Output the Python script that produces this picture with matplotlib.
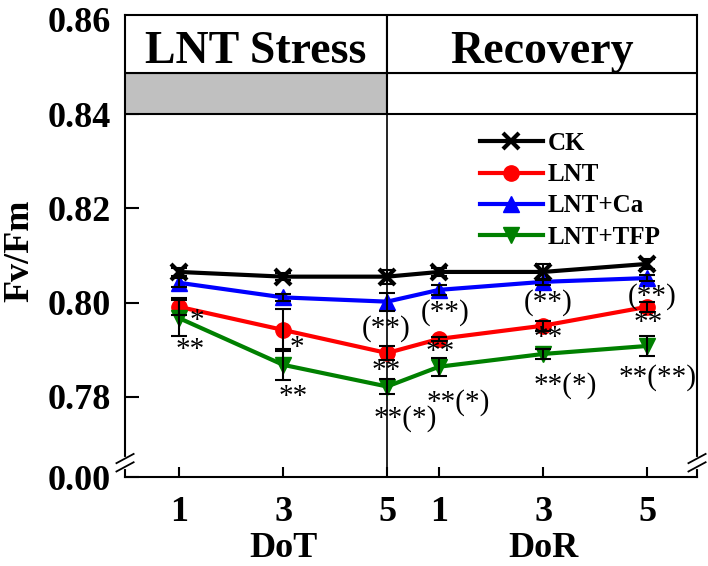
import matplotlib
matplotlib.use('Agg')
import matplotlib.pyplot as plt
from matplotlib.patches import Rectangle
from matplotlib.transforms import blended_transform_factory

plt.rcParams['font.family'] = 'Liberation Serif'

# x positions: DoT 1,3,5 then DoR 1,3,5 (one day after stress ends)
days = [1, 3, 5, 6, 8, 10]
day_labels = ['1', '3', '5', '1', '3', '5']

ck = [0.8065, 0.8055, 0.8055, 0.8065, 0.8065, 0.8082]
ck_err = [0.0008, 0.0008, 0.0015, 0.0008, 0.0017, 0.0010]
lnt = [0.7991, 0.7942, 0.7893, 0.7923, 0.7951, 0.7991]
lnt_err = [0.0018, 0.0045, 0.0015, 0.0005, 0.0011, 0.0011]
lnt_ca = [0.8042, 0.8011, 0.8002, 0.8027, 0.8044, 0.8052]
lnt_ca_err = [0.0010, 0.0008, 0.0019, 0.0010, 0.0006, 0.0006]
lnt_tfp = [0.7967, 0.7868, 0.7822, 0.7864, 0.7891, 0.7908]
lnt_tfp_err = [0.0038, 0.0033, 0.0015, 0.0019, 0.0011, 0.0021]

series_names = ['CK', 'LNT', 'LNT+Ca', 'LNT+TFP']
series_colors = ['black', '#ff0000', '#0000ff', '#008000']
series_markers = ['x', 'o', '^', 'v']

# significance marks
sig_x = [1.35, 1.21, 3.27, 3.19, 4.98, 4.98, 5.35, 6.12, 6.02, 6.37,
         8.10, 8.10, 8.42, 10.10, 10.02, 10.21]
sig_y = [0.7961, 0.7900, 0.7904, 0.7800, 0.7944, 0.7855, 0.7755, 0.7978, 0.7895, 0.7789,
         0.8001, 0.7925, 0.7825, 0.8012, 0.7957, 0.7842]
sig_text = ['*', '**', '*', '**', '(**)', '**', '**(*)', '(**)', '**', '**(*)',
            '(**)', '**', '**(*)', '(**)', '**', '**(**)']

yticks = [0.78, 0.80, 0.82, 0.84, 0.86]
Y_BOTTOM = 0.763   # shown as 0.00 below the axis break
Y_TOP = 0.861
HEADER_Y = 0.8488
STRESS_END = 5

fig = plt.figure(figsize=(7.08, 5.66), dpi=100)
ax = fig.add_axes([0.1766, 0.1572, 0.8079, 0.8163])

data = [(ck, ck_err), (lnt, lnt_err), (lnt_ca, lnt_ca_err), (lnt_tfp, lnt_tfp_err)]
for (vals, errs), name, c, m in zip(data, series_names, series_colors, series_markers):
    mew = 3 if m == 'x' else 1
    ax.plot(days, vals, color=c, marker=m, markersize=11, lw=3, mew=mew, label=name, zorder=3)
    ax.errorbar(days, vals, yerr=errs, fmt='none', ecolor='black', capsize=6,
                elinewidth=1.5, capthick=1.5, zorder=4)

for x, y, t in zip(sig_x, sig_y, sig_text):
    ax.text(x, y, t, fontsize=21, ha='center', va='center', zorder=5)

ax.set_xlim(-0.04, 10.96)
ax.set_ylim(Y_BOTTOM, Y_TOP)
ax.axvline(STRESS_END, color='black', lw=1.2, zorder=1)

# header table
x0, x1 = ax.get_xlim()
ax.add_patch(Rectangle((x0, 0.84), STRESS_END - x0, HEADER_Y - 0.84, facecolor='#c0c0c0',
                       edgecolor='black', lw=1.5, zorder=6))
ax.add_patch(Rectangle((STRESS_END, 0.84), x1 - STRESS_END, HEADER_Y - 0.84, facecolor='white',
                       edgecolor='black', lw=1.5, zorder=6))
ax.add_patch(Rectangle((x0, HEADER_Y), STRESS_END - x0, Y_TOP - HEADER_Y, facecolor='white',
                       edgecolor='black', lw=1.5, zorder=6))
ax.add_patch(Rectangle((STRESS_END, HEADER_Y), x1 - STRESS_END, Y_TOP - HEADER_Y, facecolor='white',
                       edgecolor='black', lw=1.5, zorder=6))
ax.text((x0 + STRESS_END) / 2, 0.8508, 'LNT Stress', fontsize=33,
        fontweight='bold', ha='center', va='baseline', zorder=7)
ax.text((x1 + STRESS_END) / 2, 0.8508, 'Recovery', fontsize=33,
        fontweight='bold', ha='center', va='baseline', zorder=7)

ax.set_xticks(days)
ax.set_xticklabels(day_labels)
ax.set_yticks([Y_BOTTOM] + yticks)
ax.set_yticklabels(['0.00'] + ['%.2f' % v for v in yticks])
ax.tick_params(axis='x', direction='in', length=7, width=1.5, labelsize=26, pad=14)
ax.tick_params(axis='y', direction='in', length=10, width=1.5, labelsize=26, pad=10)
for lab in ax.get_xticklabels() + ax.get_yticklabels():
    lab.set_fontweight('bold')
for sp in ax.spines.values():
    sp.set_linewidth(1.5)

fig.text(28 / 708, 1 - 251 / 566, 'Fv/Fm', rotation=90, rotation_mode='anchor',
         ha='center', va='baseline', fontsize=26, fontweight='bold')

tr = blended_transform_factory(ax.transData, ax.transAxes)
ax.text(3, -0.173, 'DoT', transform=tr, fontsize=26, fontweight='bold', ha='center', va='baseline')
ax.text(8, -0.173, 'DoR', transform=tr, fontsize=26, fontweight='bold', ha='center', va='baseline')

# axis breaks
for bx in (0, 1):
    ax.plot([bx, bx], [0.022, 0.040], color='white', lw=3, transform=ax.transAxes,
            clip_on=False, zorder=8)
    for off in (-0.009, 0.009):
        ax.plot([bx - 0.015, bx + 0.015], [0.021 + off, 0.041 + off], color='black', lw=1.3,
                transform=ax.transAxes, clip_on=False, zorder=9)

ax.legend(loc='upper left', bbox_to_anchor=(480 / 708, 1 - 132 / 566), bbox_transform=fig.transFigure,
          frameon=False, borderpad=0, borderaxespad=0, handlelength=2.5, handletextpad=0.2,
          labelspacing=0.33, prop={'weight': 'bold', 'size': 18}, numpoints=1)

fig.savefig('out.png', dpi=100)
